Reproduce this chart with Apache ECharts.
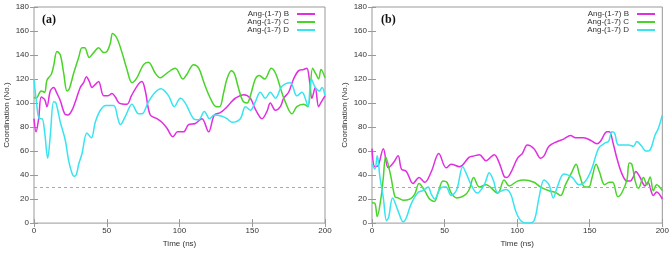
<!DOCTYPE html>
<html>
<head>
<meta charset="utf-8">
<script src="https://cdn.jsdelivr.net/npm/echarts@6/dist/echarts.min.js"></script>
<style>
  html, body { margin: 0; padding: 0; background: #fff; }
  #chart { width: 672px; height: 253px; }
</style>
</head>
<body>
<div id="chart"></div>
<script>
// [time (ns), coordination]
const leftB = [[0,87],[1.4,76],[3.2,87],[5,105],[7.3,103],[8.9,97],[11.2,110],[13.5,113],[15.8,108],[18.1,102],[21.1,91],[23.4,90],[25.7,93],[28.4,101],[31.8,113],[34.1,117],[36,122],[38,118],[39.9,113],[42.6,116],[44.4,118],[47.9,106],[50.9,106],[53.6,108],[55.9,105],[58.6,100],[63.9,99],[66.9,106],[71.9,116],[74.2,118],[76.5,110],[79.9,90],[84.5,87],[87.9,84],[91.4,79],[95.5,72],[98.7,76],[102.8,76],[106.2,82],[110.9,83],[115.4,87],[120,76],[123.9,90],[128,92],[132,96],[135,100],[138.4,104],[144.2,107],[148.7,104],[152.1,95],[156.7,87],[160.1,93],[162.4,100],[165.9,94],[169.3,97],[171.6,104],[175,109],[178.4,120],[181.9,127],[185.3,128],[187.5,129],[189.2,120],[191,104],[193.3,113],[195.6,97],[197.5,101],[200,106]];
const leftC = [[0,105],[1.4,104],[5,110],[7.3,109],[8.9,119],[11.9,124],[13.5,131],[15.8,143],[18.1,140],[20.4,125],[22.7,110],[24.3,112],[27.3,125],[30.7,138],[33,146],[34.8,146],[38,138],[41,142],[44.4,146],[47.9,142],[50.2,143],[52.5,150],[54,158],[57,154],[60.5,142],[63.9,128],[67.3,117],[70.7,121],[75.3,132],[78.6,134],[83.3,125],[86.7,121],[91.4,125],[97.1,129],[102.4,120],[105.1,124],[109.7,132],[113.2,129],[117.1,116],[121.2,104],[125.3,97],[127.6,97],[130.4,109],[132.6,120],[135.6,127],[137.9,124],[140.2,114],[143.4,102],[146.4,100],[148.7,106],[152.1,120],[154.8,123],[158.5,120],[163.1,129],[166.3,124],[170,110],[172.7,101],[177.3,91],[180.7,97],[185.3,99],[188.3,97],[191.5,129],[193.8,124],[195.6,120],[197.3,128],[200,121]];
const leftD = [[0,120],[1.4,104],[3.7,87],[5.5,87],[7.3,76],[9.4,54],[11.2,73],[13.5,101],[15.1,100],[18.1,84],[21.5,69],[23.8,52],[26,42],[27.5,39],[29,40],[30.7,49],[33,58],[36.4,75],[39.4,71],[42.1,84],[45.6,94],[49.5,98],[54.7,98],[57.7,87],[59.3,82],[63.2,90],[67.3,99],[71.9,91],[74.2,91],[78.6,101],[83.3,109],[87.2,112],[92.5,106],[96.4,97],[100.6,104],[104,100],[109.7,87],[113.2,86],[117.1,93],[120.7,87],[123.9,90],[129.2,89],[132.6,87],[136,84],[141.8,87],[145.3,97],[148.7,94],[152.1,101],[155.5,109],[159,104],[162.4,109],[165.9,104],[170.4,114],[176.1,117],[180.7,106],[184.2,109],[186.4,104],[188.3,97],[190.6,120],[193.3,113],[196.1,110],[198,113],[200,106]];

const rightB = [[0,62],[2,47],[4.3,48],[7.8,62],[11.2,46],[14.6,50],[18,56],[20.3,45],[23.7,43],[28.3,33],[32.4,38],[36.3,34],[40.9,43],[46,58],[51.1,46],[54.6,49],[60.3,47],[67,55],[70.5,56],[74,57],[78.5,52],[84.2,57],[87.7,50],[91,39],[92.9,38],[95.6,42],[100.2,54],[103.6,58],[107,65],[111.6,62],[116.2,54],[118.5,56],[121.9,64],[127.6,68],[132,70],[136.8,73],[140.2,71],[145.9,71],[150.5,69],[155,66],[157.3,68],[161.9,76],[163.5,76],[166.4,65],[168.7,54],[172.2,41],[175.6,35],[177.9,35],[180.2,39],[181.7,43],[184.7,38],[188.1,31],[190,34],[193.8,23],[196.1,26],[200,20]];
const rightC = [[0,17],[2,16.5],[3.6,5.5],[6.2,21],[7.8,38],[9.4,55],[12.8,40],[15.8,22],[18,21],[21.5,19],[26,20],[29.4,24],[32.4,33],[36.3,27],[39.7,20],[43,18],[45.4,25],[48.9,35],[51.6,34],[54.6,25],[58.4,21],[63.7,23],[67,28],[70,38],[74,30],[78.5,32],[86.6,25],[91,36],[94.5,31],[100.2,35],[104.7,36],[111.6,34],[116.2,30],[121.9,27],[126.5,25.5],[129.9,23],[133.3,32],[137.5,42],[140.6,49],[143,40],[146.6,30],[149.3,30],[151.6,38],[154.4,49],[156.6,43],[160.3,32],[163.5,34],[165.8,34],[169.4,22],[172.2,25.5],[175.6,36],[177.2,50],[179,49],[181.3,35],[183.5,29],[187,38],[189.3,32],[191.6,38.5],[193.8,27],[196.1,32],[200,27]];
const rightD = [[0,49],[2,45],[3.6,56],[5.5,38],[7.8,21],[10,2],[11.5,5],[14.2,21],[18,10],[21.5,1],[23.5,4],[27,16],[31.7,25.5],[35,27],[38.6,30],[40.9,24],[43.2,20],[46.6,28],[49,30],[51,30],[54.6,23],[58.4,28],[62.5,47],[65,41],[68.3,32],[72.4,25],[77.4,32],[80.8,42],[83.8,35],[86.5,25.5],[92.2,28],[95.6,24],[99,10],[102.5,2],[107,0],[111.6,2],[115,21],[118.5,36],[121.9,32],[124.9,21],[127.6,30],[132.2,41],[137.9,38],[142.5,32],[147.1,35],[151.6,46],[156.2,62.5],[160.8,67],[163,68],[165.3,76],[167.1,75],[169.9,65],[176.7,65],[180.2,64],[182.4,68],[185.8,64],[188.6,60],[191.6,61],[194.9,73],[197.3,79],[200,90]];

const seriesNames = ["Ang-(1-7) B", "Ang-(1-7) C", "Ang-(1-7) D"];
const colors = ["#e02ee0", "#48d428", "#38e4f0"];
const panelLabels = ["(a)", "(b)"];
const threshold = 30;

const chart = echarts.init(document.getElementById("chart"));

const labelFont = { color: "#333", fontSize: 8, fontFamily: "Liberation Sans" };
const tickStyle = { inside: true, length: 4, lineStyle: { color: "#999" } };

function bottomAxis(grid) {
  return {
    type: "value", gridIndex: grid, min: 0, max: 200, interval: 50,
    name: "Time (ns)", nameLocation: "middle", nameGap: 16,
    nameTextStyle: labelFont,
    axisLine: { show: false }, axisTick: tickStyle,
    axisLabel: { ...labelFont, margin: 4 }, splitLine: { show: false },
  };
}
function topAxis(grid) {
  return {
    type: "value", gridIndex: grid, position: "top", min: 0, max: 200, interval: 50,
    axisLine: { show: false }, axisTick: tickStyle,
    axisLabel: { show: false }, splitLine: { show: false },
  };
}
function leftAxis(grid) {
  return {
    type: "value", gridIndex: grid, min: 0, max: 180, interval: 20,
    name: "Coordination (No.)", nameLocation: "middle", nameGap: 23,
    nameTextStyle: labelFont,
    axisLine: { show: false }, axisTick: tickStyle,
    axisLabel: { ...labelFont, margin: 5 }, splitLine: { show: false },
  };
}
function rightAxis(grid) {
  return {
    type: "value", gridIndex: grid, position: "right", min: 0, max: 180, interval: 20,
    axisLine: { show: false }, axisTick: tickStyle,
    axisLabel: { show: false }, splitLine: { show: false },
  };
}

function makeSeries(data, i, panel) {
  const s = {
    name: seriesNames[i],
    type: "line",
    data: data,
    xAxisIndex: panel * 2,
    yAxisIndex: panel * 2,
    smooth: 0.35,
    symbol: "none",
    color: colors[i],
    lineStyle: { width: 1.5 },
  };
  if (i === 0) {
    s.markLine = {
      silent: true,
      symbol: "none",
      label: { show: false },
      lineStyle: { color: "#aaa", type: [3, 3], width: 1 },
      data: [{ yAxis: threshold }],
    };
  }
  return s;
}

function legendFor(rightPx) {
  return {
    data: seriesNames,
    orient: "vertical",
    right: rightPx,
    top: 10,
    padding: 0,
    align: "right",
    icon: "rect",
    itemWidth: 18,
    itemHeight: 2,
    itemGap: 0,
    textStyle: { ...labelFont, fontSize: 8, lineHeight: 8, padding: [0, 3, 0, 0] },
  };
}

const option = {
  animation: false,
  backgroundColor: "#fff",
  grid: [
    { left: 34, right: 347, top: 7, bottom: 27, show: true, borderColor: "#999", borderWidth: 1 },
    { left: 372, right: 8, top: 7, bottom: 27, show: true, borderColor: "#999", borderWidth: 1 },
  ],
  xAxis: [bottomAxis(0), topAxis(0), bottomAxis(1), topAxis(1)],
  yAxis: [leftAxis(0), rightAxis(0), leftAxis(1), rightAxis(1)],
  legend: [legendFor(357), legendFor(17)],
  series: [
    makeSeries(leftB, 0, 0), makeSeries(leftC, 1, 0), makeSeries(leftD, 2, 0),
    makeSeries(rightB, 0, 1), makeSeries(rightC, 1, 1), makeSeries(rightD, 2, 1),
  ],
  graphic: [
    { type: "text", left: 42, top: 14, style: { text: panelLabels[0], font: "bold 12px 'Liberation Serif'", fill: "#111" } },
    { type: "text", left: 381, top: 14, style: { text: panelLabels[1], font: "bold 12px 'Liberation Serif'", fill: "#111" } },
  ],
};

chart.setOption(option);
</script>
</body>
</html>
